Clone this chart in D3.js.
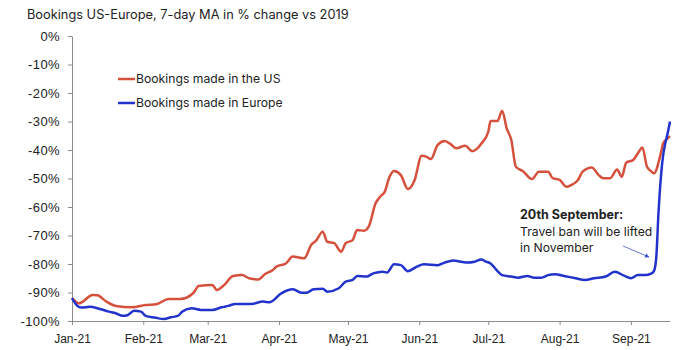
<!DOCTYPE html>
<html>
<head>
<meta charset="utf-8">
<script src="https://cdn.jsdelivr.net/npm/d3@7"></script>
<style>
  body { margin: 0; background: #fff; }
  svg { font-family: Inter, "Liberation Sans", sans-serif; }
  .axis path, .axis line { stroke: #8c8c8c; }
  .axis text { fill: #222; font-size: 12px; }
  .y.axis text { font-size: 13px; letter-spacing: 0.4px; }
</style>
</head>
<body>
<svg class="chart"></svg>
<script>
// US bookings, 7-day MA, % change vs 2019
var usDates = ["2021-01-01","2021-01-04","2021-01-10","2021-01-12","2021-01-16","2021-01-20","2021-01-27",
  "2021-02-02","2021-02-07","2021-02-12","2021-02-17","2021-02-23","2021-02-25",
  "2021-03-03","2021-03-05","2021-03-08","2021-03-12","2021-03-16","2021-03-19","2021-03-23","2021-03-26","2021-03-29","2021-03-31",
  "2021-04-04","2021-04-07","2021-04-12","2021-04-15","2021-04-17","2021-04-20","2021-04-22","2021-04-25","2021-04-28","2021-04-30",
  "2021-05-03","2021-05-05","2021-05-08","2021-05-10","2021-05-13","2021-05-15","2021-05-17","2021-05-19","2021-05-21","2021-05-24","2021-05-27","2021-05-30",
  "2021-06-02","2021-06-04","2021-06-06","2021-06-09","2021-06-12","2021-06-15","2021-06-17","2021-06-21","2021-06-24","2021-06-26","2021-06-28",
  "2021-07-01","2021-07-02","2021-07-05","2021-07-07","2021-07-09","2021-07-11","2021-07-13","2021-07-16","2021-07-20","2021-07-23","2021-07-27","2021-07-29",
  "2021-08-01","2021-08-04","2021-08-06","2021-08-09","2021-08-11","2021-08-15","2021-08-18","2021-08-20","2021-08-23","2021-08-26","2021-08-28","2021-08-30",
  "2021-09-02","2021-09-04","2021-09-06","2021-09-08","2021-09-10","2021-09-11","2021-09-14","2021-09-15","2021-09-17","2021-09-18"];
var usValues = [-92,-93.8,-90.9,-91,-93.2,-94.7,-95.2,
  -94.4,-94,-92.3,-92.3,-90,-87.7,
  -87.4,-89.1,-87.5,-84.2,-83.9,-85,-85.4,-83.5,-82.3,-80.9,
  -79.8,-77.4,-78,-73.3,-71.9,-68.7,-72.2,-72.7,-75.7,-72.7,
  -71.6,-68.1,-68.3,-66.9,-58.7,-56.4,-54.6,-49.6,-47.4,-48.8,-53.7,-50.5,
  -42,-42.3,-43.2,-38.2,-36.8,-38.2,-39.4,-38.5,-40.4,-39.6,-37.7,
  -33.6,-29.8,-29.8,-26.2,-32.4,-36.5,-45.9,-47.4,-50.2,-47.6,-47.6,-49.9,
  -50.5,-52.9,-52.3,-50.5,-47.6,-46.1,-48.8,-49.9,-49.9,-46.8,-49.4,-44.4,
  -43.5,-41.2,-39.1,-45.9,-47.6,-48.2,-41.2,-37.7,-35.9,-35.1];

// Europe bookings, 7-day MA, % change vs 2019
var euDates = ["2021-01-01","2021-01-03","2021-01-05","2021-01-09","2021-01-12","2021-01-17","2021-01-20","2021-01-23","2021-01-25","2021-01-28","2021-01-31",
  "2021-02-02","2021-02-06","2021-02-10","2021-02-13","2021-02-16","2021-02-18","2021-02-22","2021-02-26",
  "2021-03-03","2021-03-07","2021-03-10","2021-03-13","2021-03-20","2021-03-25","2021-03-28",
  "2021-04-02","2021-04-07","2021-04-11","2021-04-13","2021-04-16","2021-04-20","2021-04-22","2021-04-27","2021-04-30",
  "2021-05-03","2021-05-05","2021-05-09","2021-05-12","2021-05-16","2021-05-18","2021-05-21","2021-05-24","2021-05-27","2021-05-31",
  "2021-06-03","2021-06-09","2021-06-12","2021-06-16","2021-06-19","2021-06-22","2021-06-25","2021-06-28","2021-06-30",
  "2021-07-02","2021-07-05","2021-07-07","2021-07-11","2021-07-14","2021-07-18","2021-07-21","2021-07-24","2021-07-27","2021-07-30",
  "2021-08-03","2021-08-08","2021-08-12","2021-08-16","2021-08-21","2021-08-25","2021-08-29",
  "2021-09-01","2021-09-04","2021-09-07","2021-09-10","2021-09-11","2021-09-12","2021-09-13","2021-09-14","2021-09-15","2021-09-16","2021-09-17","2021-09-18"];
var euValues = [-92,-94.4,-95.3,-95,-95.5,-96.7,-97.3,-98.2,-98,-96.4,-96.7,
  -98.2,-98.8,-99.3,-98.7,-98.2,-96.7,-95.5,-96.1,
  -96.1,-95.2,-94.7,-94,-94,-93.2,-93.4,
  -90.3,-88.9,-90.1,-90.1,-88.9,-88.7,-89.7,-88.5,-86.2,
  -85.6,-84.2,-84.4,-83.3,-82.7,-83,-80.1,-80.4,-82.5,-80.9,
  -80.1,-80.4,-79.5,-78.8,-79.2,-79.5,-79.2,-78.4,-79.2,
  -79.8,-82.5,-83.9,-84.4,-84.8,-84.2,-84.8,-84.8,-83.9,-83.6,
  -84.2,-85,-85.6,-85,-84.4,-82.7,-84.1,
  -85,-83.9,-83.9,-83.3,-82.5,-78,-62,-50,-42,-37.5,-34,-30];

var monthTicks = ["2021-01-01","2021-02-01","2021-03-01","2021-04-01","2021-05-01",
  "2021-06-01","2021-07-01","2021-08-01","2021-09-01"];
var yTicks = [0,-10,-20,-30,-40,-50,-60,-70,-80,-90,-100];

var seriesNames = ["Bookings made in the US", "Bookings made in Europe"];
var seriesColors = ["#d5513d", "#2233cc"];

var width = 678, height = 350;
var parse = d3.timeParse("%Y-%m-%d");

var svg = d3.select(".chart")
    .attr("width", width)
    .attr("height", height);

var x = d3.scaleTime()
    .domain([parse("2021-01-01"), parse("2021-09-18")])
    .range([72, 670]);

var y = d3.scaleLinear()
    .domain([-100, 0])
    .range([321, 36]);

svg.append("text")
    .attr("x", 27)
    .attr("y", 19)
    .attr("fill", "#222")
    .style("font-size", "12.8px")
    .text("Bookings US-Europe, 7-day MA in % change vs 2019");

svg.append("g")
    .attr("class", "y axis")
    .attr("transform", "translate(72,0)")
    .call(d3.axisLeft(y)
      .tickValues(yTicks)
      .tickSize(4)
      .tickSizeOuter(0)
      .tickPadding(8)
      .tickFormat(function(d) { return d + "%"; }));

svg.append("g")
    .attr("class", "x axis")
    .attr("transform", "translate(0,321)")
    .call(d3.axisBottom(x)
      .tickValues(monthTicks.map(parse))
      .tickSize(4)
      .tickSizeOuter(0)
      .tickPadding(9)
      .tickFormat(d3.timeFormat("%b-%y")));

var line = d3.line()
    .x(function(d) { return x(d.date); })
    .y(function(d) { return y(d.value); })
    .curve(d3.curveMonotoneX);

var series = [
  usDates.map(function(d, i) { return {date: parse(d), value: usValues[i]}; }),
  euDates.map(function(d, i) { return {date: parse(d), value: euValues[i]}; })
];

svg.selectAll("path.series")
    .data(series)
  .enter().append("path")
    .attr("class", "series")
    .attr("fill", "none")
    .attr("stroke", function(d, i) { return seriesColors[i]; })
    .attr("stroke-width", 2.5)
    .attr("stroke-linejoin", "round")
    .attr("d", line);

// legend
var legend = svg.selectAll("g.legend")
    .data(seriesNames)
  .enter().append("g")
    .attr("class", "legend")
    .attr("transform", function(d, i) { return "translate(118," + (79 + i * 24) + ")"; });

legend.append("line")
    .attr("x1", 0).attr("x2", 17)
    .attr("stroke", function(d, i) { return seriesColors[i]; })
    .attr("stroke-width", 2.5);

legend.append("text")
    .attr("x", 18)
    .attr("dy", "0.35em")
    .attr("fill", "#222")
    .style("font-size", "12.2px")
    .text(function(d) { return d; });

// annotation
svg.append("defs").append("marker")
    .attr("id", "arrow")
    .attr("viewBox", "0 0 10 10")
    .attr("refX", 9).attr("refY", 5)
    .attr("markerWidth", 5).attr("markerHeight", 5)
    .attr("orient", "auto")
  .append("path")
    .attr("d", "M0,0L10,5L0,10z")
    .attr("fill", "#3f4fd0");

var note = svg.append("text")
    .attr("x", 520)
    .attr("y", 219)
    .attr("fill", "#222")
    .style("font-size", "12.2px");
note.append("tspan").attr("x", 520).style("font-weight", "bold").style("font-size", "12.5px").text("20th September:");
note.append("tspan").attr("x", 520).attr("dy", 16.5).text("Travel ban will be lifted");
note.append("tspan").attr("x", 520).attr("dy", 16.5).text("in November");

svg.append("line")
    .attr("x1", 623).attr("y1", 246)
    .attr("x2", 649).attr("y2", 257)
    .attr("stroke", "#5a68d4")
    .attr("stroke-width", 0.9)
    .attr("marker-end", "url(#arrow)");
</script>
</body>
</html>
